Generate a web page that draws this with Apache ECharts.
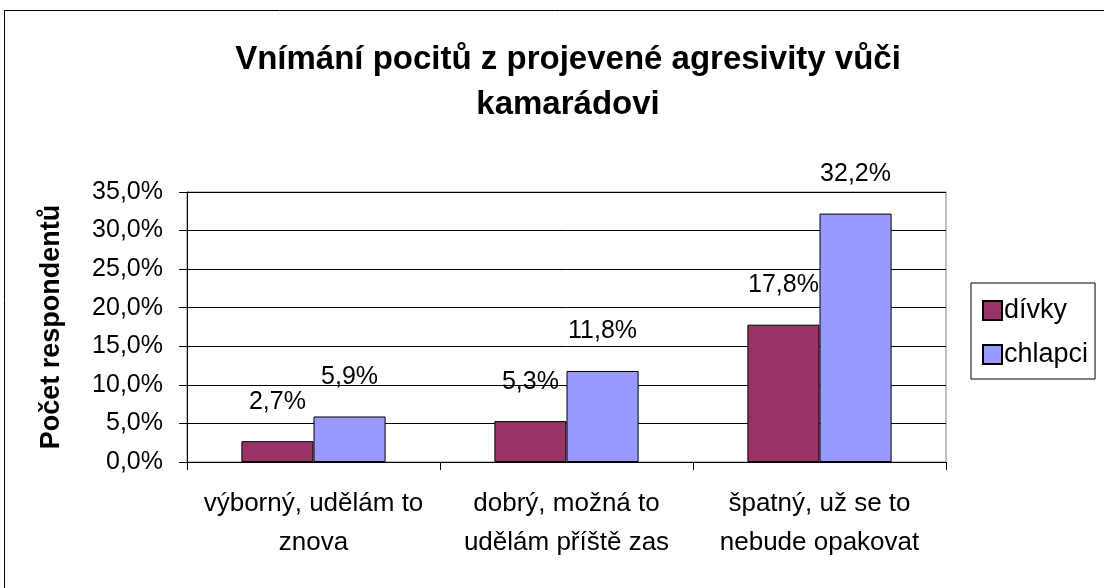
<!DOCTYPE html>
<html>
<head>
<meta charset="utf-8">
<script src="https://cdn.jsdelivr.net/npm/echarts@6/dist/echarts.min.js"></script>
<style>
  html, body { margin: 0; padding: 0; background: #fff; }
  #chart { width: 1104px; height: 588px; }
</style>
</head>
<body>
<div id="chart"></div>
<script>
// data
const categories = ["výborný, udělám to\nznova", "dobrý, možná to\nudělám příště zas", "špatný, už se to\nnebude opakovat"];
const divky = [2.7, 5.3, 17.8];
const chlapci = [5.9, 11.8, 32.2];

const font = "'Liberation Sans', Arial, sans-serif";
const pct = (v) => v.toFixed(1).replace(".", ",") + "%";

const chart = echarts.init(document.getElementById("chart"));

// 数值标签
const barLabel = {
  show: true,
  position: "top",
  distance: 27,
  fontFamily: font,
  fontSize: 25,
  color: "#000",
  formatter: (p) => pct(p.value),
};

const option = {
  animation: false,
  textStyle: { fontFamily: font },
  title: {
    text: "Vnímání pocitů z projevené agresivity vůči\nkamarádovi",
    left: 563,
    textAlign: "center",
    top: 32,
    textStyle: { fontFamily: font, fontSize: 33, fontWeight: "bold", color: "#000", lineHeight: 45 },
  },
  // 外框
  graphic: [
    {
      type: "rect",
      shape: { x: 4.5, y: 10.5, width: 1120, height: 600 },
      style: { fill: "none", stroke: "#000", lineWidth: 1 },
      silent: true,
    },
  ],
  legend: {
    orient: "vertical",
    left: 971,
    top: 283,
    padding: [14, 7, 11, 11],
    itemGap: 17,
    itemWidth: 19,
    itemHeight: 19,
    borderColor: "#000",
    borderWidth: 1,
    textStyle: { fontFamily: font, fontSize: 27, color: "#000", padding: [0, 0, 0, -3] },
    data: [{ name: "dívky", icon: "rect" }, { name: "chlapci", icon: "rect" }],
  },
  grid: {
    left: 187,
    right: 158,
    top: 192,
    bottom: 126,
    show: true,
    borderColor: "#808080",
    borderWidth: 1,
  },
  xAxis: {
    type: "category",
    data: categories,
    axisLine: { lineStyle: { color: "#000" } },
    axisTick: { show: true, length: 8, lineStyle: { color: "#000" } },
    axisLabel: { fontFamily: font, fontSize: 26, color: "#000", lineHeight: 39, margin: 22, interval: 0 },
  },
  yAxis: {
    type: "value",
    min: 0,
    max: 35,
    interval: 5,
    name: "Počet respondentů",
    nameLocation: "middle",
    nameRotate: 90,
    nameGap: 122,
    nameTextStyle: { fontFamily: font, fontSize: 27, fontWeight: "bold", color: "#000" },
    axisLine: { show: true, lineStyle: { color: "#000" } },
    axisTick: { show: true, length: 8, lineStyle: { color: "#000" } },
    axisLabel: { fontFamily: font, fontSize: 25, color: "#000", margin: 24, formatter: pct },
    splitLine: { lineStyle: { color: "#000", width: 1 } },
  },
  series: [
    {
      name: "dívky",
      type: "bar",
      data: divky,
      barGap: "0%",
      barCategoryGap: "43%",
      itemStyle: { color: "#993366", borderColor: "#000", borderWidth: 1 },
      label: barLabel,
    },
    {
      name: "chlapci",
      type: "bar",
      data: chlapci,
      itemStyle: { color: "#9999FF", borderColor: "#000", borderWidth: 1 },
      label: barLabel,
    },
  ],
};

chart.setOption(option);
</script>
</body>
</html>
